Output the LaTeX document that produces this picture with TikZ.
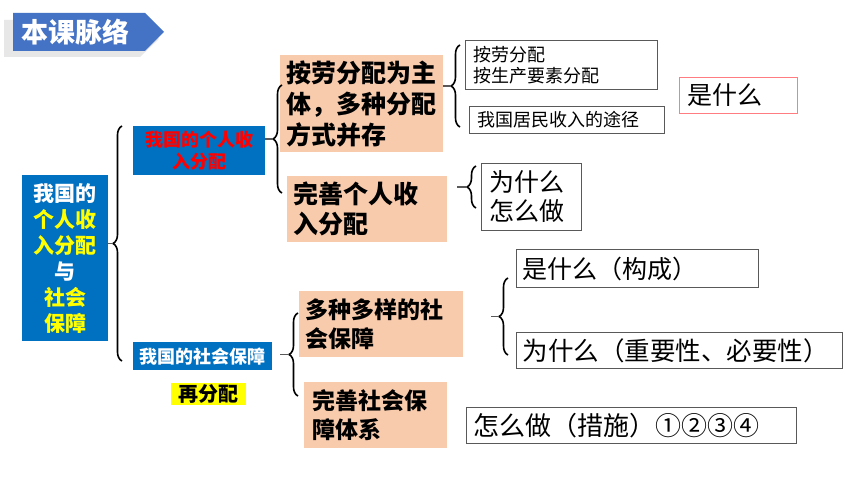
\documentclass[tikz,border=0pt]{standalone}
\usepackage{fontspec}
\setmainfont{Noto Sans CJK SC}
\usetikzlibrary{decorations.pathreplacing}
\definecolor{bluebox}{HTML}{0070C0}
\definecolor{titleblue}{HTML}{4472C4}
\definecolor{peach}{HTML}{F8CBAD}
\definecolor{ylw}{HTML}{FFFF00}
\definecolor{redtxt}{HTML}{FF0000}
\definecolor{framec}{HTML}{595959}
\definecolor{redframe}{HTML}{FF7C80}
\newcommand{\myfs}[2]{\fontsize{#1}{#2}\selectfont}
\begin{document}
\begin{tikzpicture}[x=1pt,y=-1pt,
  bluenode/.style={fill=bluebox, anchor=north west, inner sep=0pt, align=center},
  peachnode/.style={fill=peach, anchor=north west, inner xsep=6pt, inner ysep=0pt, align=left},
  whitebox/.style={draw=framec, line width=1pt, fill=white, anchor=north west, inner xsep=7pt, inner ysep=0pt, align=left},
  brc/.style={decorate, decoration={brace, amplitude=9pt, aspect=0.5}, line width=1.6pt, black},
  conn/.style={draw=gray!70!black, line width=1.2pt}]
\fill[white] (0,0) rectangle (860,484);
\useasboundingbox (0,0) rectangle (860,484);

% title banner
\fill[gray!60, opacity=0.3] (4,20) -- (140,20) -- (159,39) -- (140,57) -- (4,57) -- cycle;
\fill[titleblue] (13,13) -- (145,13) -- (164,32) -- (145,51) -- (13,51) -- cycle;
\node[text=white, font=\bfseries\myfs{27}{30}, anchor=west, inner sep=0pt] (title) at (21,32) {本课脉络};

% left column
\node[bluenode, minimum width=86pt, minimum height=166pt, text=white, font=\bfseries\myfs{21}{26}] (main) at (22,175)
  {我国的\\\textcolor{ylw}{个人收}\\\textcolor{ylw}{入分配}\\与\\\textcolor{ylw}{社会}\\\textcolor{ylw}{保障}};
\node[bluenode, minimum width=132pt, minimum height=49pt, text=redtxt, font=\bfseries\myfs{18}{22}] (inc) at (133,126)
  {我国的个人收\\入分配};
\node[bluenode, minimum width=139pt, minimum height=28pt, text=white, font=\bfseries\myfs{18}{22}] (soc) at (133,342)
  {我国的社会保障};
\node[fill=ylw, anchor=north west, inner sep=0pt, minimum width=75pt, minimum height=22pt, font=\bfseries\myfs{20}{22}] (redist) at (171,383)
  {再分配};

% peach boxes
\node[peachnode, minimum height=97pt, text width=151pt, font=\bfseries\myfs{25}{31}] (p1) at (280,55)
  {按劳分配为主\\体，多种分配\\方式并存};
\node[peachnode, minimum height=66pt, text width=148pt, font=\bfseries\myfs{25}{30}] (p2) at (287,176)
  {完善个人收\\入分配};
\node[peachnode, minimum height=66pt, text width=152pt, font=\bfseries\myfs{23}{29}] (p3) at (299,291)
  {多种多样的社\\会保障};
\node[peachnode, inner xsep=8pt, minimum height=66pt, text width=127pt, font=\bfseries\myfs{23}{29}] (p4) at (304,382)
  {完善社会保\\障体系};

% white boxes
\node[whitebox, inner xsep=8pt, minimum height=49pt, text width=176pt, font=\myfs{18}{21}] (wa) at (465,40)
  {按劳分配\\按生产要素分配};
\node[whitebox, inner xsep=8pt, minimum height=27pt, text width=179pt, font=\myfs{18}{20}] (wb) at (469,106)
  {我国居民收入的途径};
\node[whitebox, draw=redframe, inner xsep=8pt, minimum height=36pt, text width=102pt, font=\myfs{25}{28}] (what) at (679,77)
  {是什么};
\node[whitebox, inner xsep=8pt, minimum height=67pt, text width=84pt, font=\myfs{25}{29}] (wc) at (481,163)
  {为什么\\怎么做};
\node[whitebox, inner xsep=6pt, minimum height=38pt, text width=230pt, font=\myfs{25}{28}] (wd) at (516,249)
  {是什么（构成）};
\node[whitebox, inner xsep=6pt, minimum height=36pt, text width=314pt, font=\myfs{25.5}{28}] (we) at (516,332)
  {为什么（重要性、必要性）};
\node[whitebox, inner xsep=7pt, minimum height=36pt, text width=316pt, font=\myfs{26}{28}] (wf) at (466,407)
  {怎么做（措施）①②③④};

% braces
\draw[brc] (122,361) -- (122,126);
\coordinate (b1) at (113,243.5);
\draw[brc] (282,193) -- (282,85);
\coordinate (b2) at (273,139);
\draw[brc] (460,127) -- (460,45);
\coordinate (b3) at (451,86);
\draw[brc] (476,208) -- (476,166);
\coordinate (b4) at (467,187);
\draw[brc] (298,396) -- (298,313);
\coordinate (b5) at (289,354.5);
\draw[brc] (508,355) -- (508,278);
\coordinate (b6) at (499,316.5);

% connectors
\draw[conn] (main.east |- b1) -- (b1);
\draw[conn] (inc.east |- b2) -- (b2);
\draw[conn] (p1.east |- b3) -- (b3);
\draw[conn, shorten <=10pt] (p2.east |- b4) -- (b4);
\draw[conn, shorten <=8pt] (soc.east |- b5) -- (b5);
\draw[conn, shorten <=28pt] (p3.east |- b6) -- (b6);
\end{tikzpicture}
\end{document}
